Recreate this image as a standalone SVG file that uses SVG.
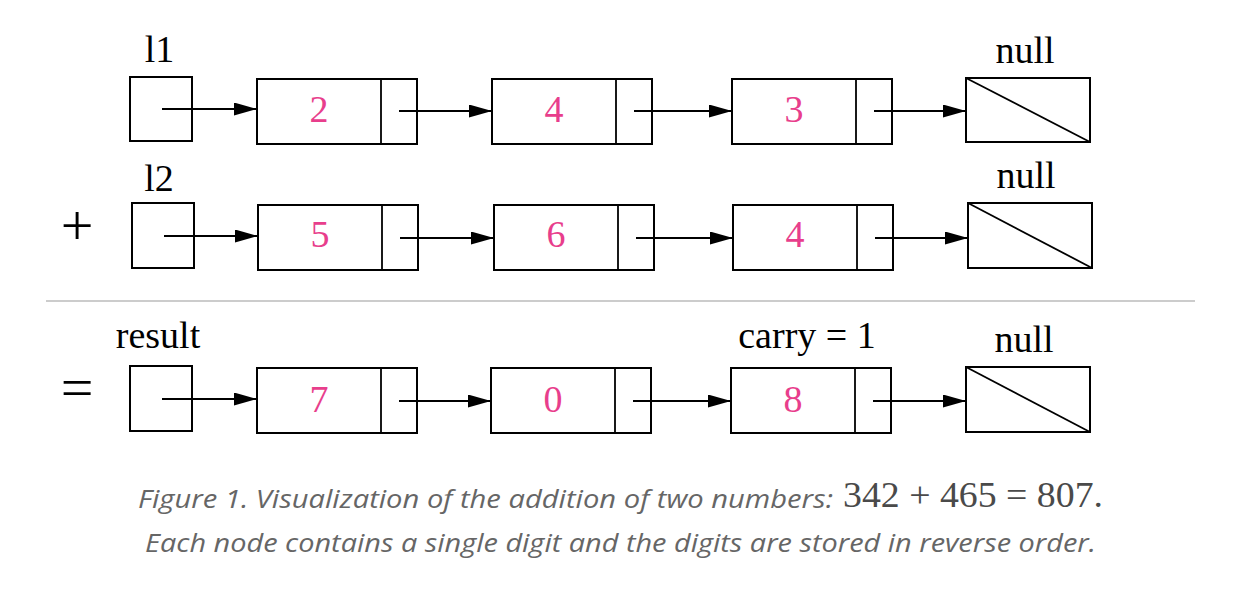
<svg xmlns="http://www.w3.org/2000/svg" width="1250" height="596" viewBox="0 0 1250 596">
<style>
.box{fill:none;stroke:#000;stroke-width:2}
.ln{fill:none;stroke:#000;stroke-width:1.8}
.lbl{font-family:"Liberation Serif","Times New Roman",serif;font-size:38px;fill:#000;text-anchor:middle}
.op{font-family:"Liberation Serif","Times New Roman",serif;font-size:58px;fill:#000;text-anchor:middle}
.dig{font-family:"Liberation Serif","Times New Roman",serif;font-size:38px;fill:#e83e8c;text-anchor:middle}
.cap{font-family:"Open Sans","Noto Sans",sans-serif;font-style:italic;font-size:26px;fill:#666}
.math{font-family:"Liberation Serif","Times New Roman",serif;font-size:35px;fill:#4a4a4a}
.conn line{stroke:#000;stroke-width:2;marker-end:url(#ah)}
</style>
<defs>
<marker id="ah" markerUnits="userSpaceOnUse" markerWidth="24" markerHeight="14" refX="23" refY="6.5" orient="auto">
<path d="M0,0 L23,6.5 L0,13 Z" fill="#000"/>
</marker>
</defs>
<rect width="1250" height="596" fill="#fff"/>

<!-- operators and labels -->
<text class="lbl" x="159.5" y="62">l1</text>
<text class="lbl" x="159" y="191">l2</text>
<text class="lbl" x="158" y="348">result</text>
<text class="lbl" x="807" y="348">carry = 1</text>
<text class="lbl" x="1025" y="63">null</text>
<text class="lbl" x="1026" y="188">null</text>
<text class="lbl" x="1024" y="352">null</text>
<text class="op" x="77" y="245">+</text>
<text class="op" x="77" y="407">=</text>
<line x1="46" y1="301" x2="1195" y2="301" stroke="#999" stroke-width="1"/>

<!-- Row 1 -->
<g id="l1-head"><rect class="box" x="130" y="77" width="62" height="64"/></g>
<g id="l1-n2"><rect class="box" x="257" y="79" width="160" height="65"/><line class="ln" x1="381" y1="79" x2="381" y2="144"/><text class="dig" x="319" y="122">2</text></g>
<g id="l1-n4"><rect class="box" x="492" y="79" width="160" height="65"/><line class="ln" x1="616" y1="79" x2="616" y2="144"/><text class="dig" x="554" y="122">4</text></g>
<g id="l1-n3"><rect class="box" x="732" y="79" width="160" height="65"/><line class="ln" x1="856" y1="79" x2="856" y2="144"/><text class="dig" x="794" y="122">3</text></g>
<g id="l1-null"><rect class="box" x="966" y="78" width="124" height="64"/><line class="ln" x1="966" y1="78" x2="1090" y2="142"/></g>

<!-- Row 2 -->
<g id="l2-head"><rect class="box" x="132" y="203" width="62" height="65"/></g>
<g id="l2-n5"><rect class="box" x="258" y="205" width="160" height="65"/><line class="ln" x1="382" y1="205" x2="382" y2="270"/><text class="dig" x="320" y="247">5</text></g>
<g id="l2-n6"><rect class="box" x="494" y="205" width="160" height="65"/><line class="ln" x1="618" y1="205" x2="618" y2="270"/><text class="dig" x="556" y="247">6</text></g>
<g id="l2-n4"><rect class="box" x="733" y="205" width="160" height="65"/><line class="ln" x1="857" y1="205" x2="857" y2="270"/><text class="dig" x="795" y="247">4</text></g>
<g id="l2-null"><rect class="box" x="968" y="203" width="124" height="65"/><line class="ln" x1="968" y1="203" x2="1092" y2="268"/></g>

<!-- Row 3 -->
<g id="res-head"><rect class="box" x="130" y="366" width="62" height="65"/></g>
<g id="res-n7"><rect class="box" x="257" y="368" width="160" height="65"/><line class="ln" x1="381" y1="368" x2="381" y2="433"/><text class="dig" x="319" y="412">7</text></g>
<g id="res-n0"><rect class="box" x="491" y="368" width="160" height="65"/><line class="ln" x1="615" y1="368" x2="615" y2="433"/><text class="dig" x="553" y="412">0</text></g>
<g id="res-n8"><rect class="box" x="731" y="368" width="160" height="65"/><line class="ln" x1="855" y1="368" x2="855" y2="433"/><text class="dig" x="793" y="412">8</text></g>
<g id="res-null"><rect class="box" x="966" y="367" width="124" height="65"/><line class="ln" x1="966" y1="367" x2="1090" y2="432"/></g>

<g id="connectors" class="conn">
<line x1="162" y1="109" x2="257" y2="109"/>
<line x1="399" y1="111" x2="492" y2="111"/>
<line x1="634" y1="111" x2="732" y2="111"/>
<line x1="874" y1="111" x2="966" y2="111"/>
<line x1="164" y1="236" x2="258" y2="236"/>
<line x1="400" y1="238" x2="494" y2="238"/>
<line x1="636" y1="238" x2="733" y2="238"/>
<line x1="875" y1="238" x2="968" y2="238"/>
<line x1="162" y1="399" x2="257" y2="399"/>
<line x1="399" y1="401" x2="491" y2="401"/>
<line x1="633" y1="401" x2="731" y2="401"/>
<line x1="873" y1="401" x2="966" y2="401"/>
</g>

<!-- caption -->
<text class="cap" x="138" y="508" textLength="695" lengthAdjust="spacingAndGlyphs">Figure 1. Visualization of the addition of two numbers:</text>
<text class="math" x="843" y="507" textLength="260" lengthAdjust="spacingAndGlyphs">342 + 465 = 807.</text>
<text class="cap" x="145" y="552" textLength="951" lengthAdjust="spacingAndGlyphs">Each node contains a single digit and the digits are stored in reverse order.</text>
</svg>
